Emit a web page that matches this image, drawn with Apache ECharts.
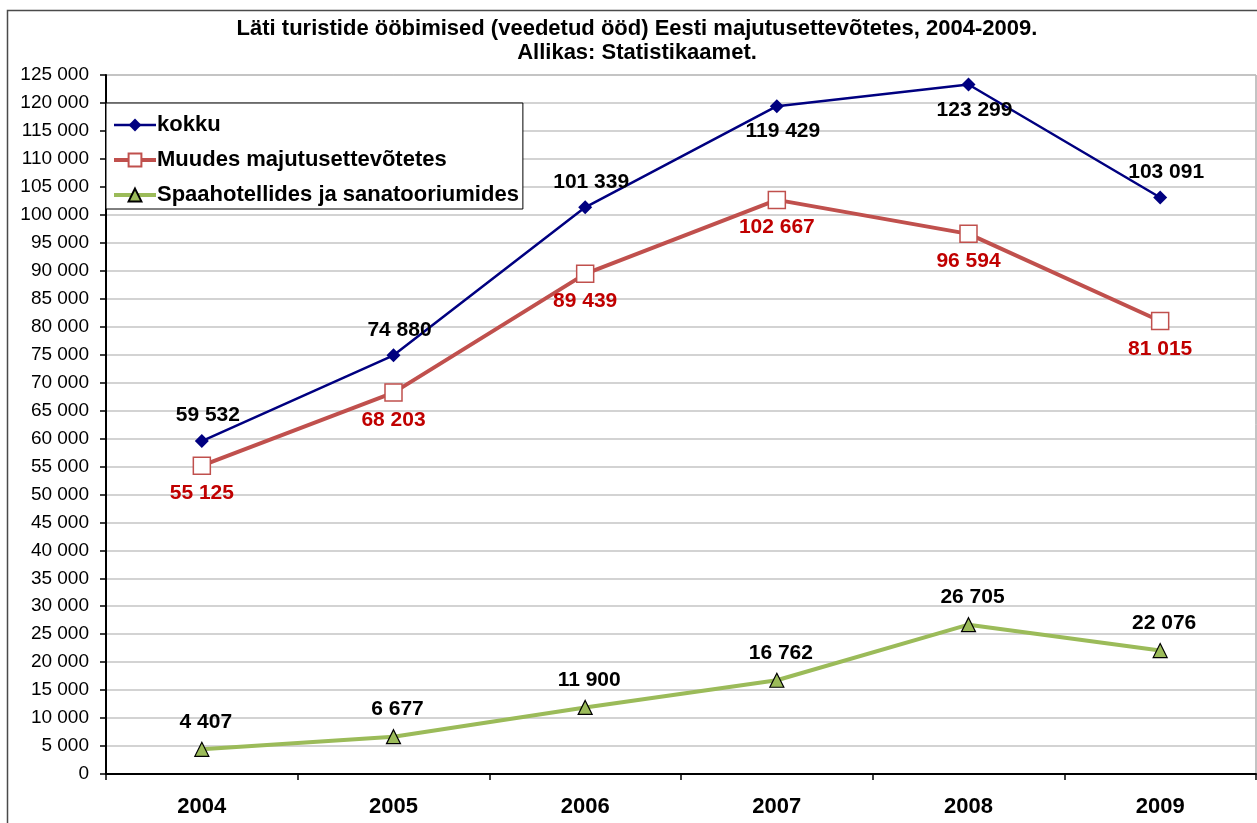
<!DOCTYPE html>
<html>
<head>
<meta charset="utf-8">
<script src="https://cdn.jsdelivr.net/npm/echarts@6/dist/echarts.min.js"></script>
<style>
  html, body { margin: 0; padding: 0; background: #fff; }
  #chart { width: 1257px; height: 823px; }
</style>
</head>
<body>
<div id="chart"></div>
<script>
// andmed
const years = ['2004', '2005', '2006', '2007', '2008', '2009'];
const kokku = [59532, 74880, 101339, 119429, 123299, 103091];
const muudes = [55125, 68203, 89439, 102667, 96594, 81015];
const spaa = [4407, 6677, 11900, 16762, 26705, 22076];

const FONT = 'Liberation Sans, Arial, sans-serif';
const fmt = v => String(v).replace(/\B(?=(\d{3})+(?!\d))/g, ' ');

let chart = echarts.init(document.getElementById('chart'));

let option = {
  animation: false,
  textStyle: { fontFamily: FONT },
  title: {
    text: 'Läti turistide ööbimised (veedetud ööd) Eesti majutusettevõtetes, 2004-2009.\nAllikas: Statistikaamet.',
    left: 632,
    top: 12,
    textAlign: 'center',
    textStyle: { fontFamily: FONT, fontSize: 22, fontWeight: 'bold', color: '#000', lineHeight: 24 }
  },
  graphic: [{
    type: 'rect',
    shape: { x: 7.5, y: 10.5, width: 1300, height: 900 },
    style: { fill: 'none', stroke: '#4a4a4a', lineWidth: 1.5 },
    silent: true
  }],
  legend: {
    orient: 'vertical',
    left: 106,
    top: 103,
    padding: [11, 4, 3, 6],
    itemGap: 13,
    itemWidth: 42,
    itemHeight: 16,
    backgroundColor: '#fff',
    borderColor: '#000',
    borderWidth: 1,
    textStyle: { fontFamily: FONT, fontSize: 22, fontWeight: 'bold', color: '#000', padding: [0, 0, 0, -4] },
    data: [
      { name: 'kokku', lineStyle: { width: 2.5 } },
      { name: 'Muudes majutusettevõtetes', lineStyle: { width: 4 } },
      { name: 'Spaahotellides ja sanatooriumides', lineStyle: { width: 4 } }
    ]
  },
  grid: {
    left: 106, right: 1, top: 75, bottom: 49,
    show: true, borderColor: '#888', borderWidth: 1
  },
  xAxis: {
    type: 'category',
    data: years,
    boundaryGap: true,
    axisLine: { lineStyle: { color: '#000', width: 2 } },
    axisTick: { show: true, length: 6, lineStyle: { color: '#000', width: 1.5 } },
    axisLabel: { margin: 22, fontFamily: FONT, fontSize: 22, fontWeight: 'bold', color: '#000' }
  },
  yAxis: {
    type: 'value',
    min: 0,
    max: 125000,
    interval: 5000,
    axisLine: { show: true, lineStyle: { color: '#000', width: 2 } },
    axisTick: { show: true, length: 6, lineStyle: { color: '#000', width: 1.5 } },
    axisLabel: { margin: 17, fontFamily: FONT, fontSize: 19, color: '#000', formatter: fmt },
    splitLine: { lineStyle: { color: '#c4c4c4', width: 1.5 } }
  },
  series: [
    {
      name: 'Spaahotellides ja sanatooriumides',
      type: 'line',
      data: spaa,
      z: 2,
      symbol: 'triangle',
      symbolSize: 14,
      lineStyle: { color: '#9bbb59', width: 4 },
      itemStyle: { color: '#9bbb59', borderColor: '#000', borderWidth: 1.2 },
      label: {
        show: true, position: 'top', distance: 9, offset: [4, 0],
        fontFamily: FONT, fontSize: 21, fontWeight: 'bold', color: '#000',
        formatter: p => fmt(p.value)
      }
    },
    {
      name: 'Muudes majutusettevõtetes',
      type: 'line',
      data: muudes,
      z: 3,
      symbol: 'rect',
      symbolSize: 17,
      lineStyle: { color: '#c0504d', width: 4 },
      itemStyle: { color: '#fff', borderColor: '#c0504d', borderWidth: 1.5 },
      label: {
        show: true, position: 'bottom', distance: 8,
        fontFamily: FONT, fontSize: 21, fontWeight: 'bold', color: '#c00000',
        formatter: p => fmt(p.value)
      }
    },
    {
      name: 'kokku',
      type: 'line',
      data: kokku.map((v, i) => ({
        value: v,
        label: { position: (i === 3 || i === 4) ? 'bottom' : 'top' }
      })),
      z: 4,
      symbol: 'diamond',
      symbolSize: 14,
      lineStyle: { color: '#000080', width: 2.5 },
      itemStyle: { color: '#000080' },
      label: {
        show: true, distance: 8, offset: [6, 0],
        fontFamily: FONT, fontSize: 21, fontWeight: 'bold', color: '#000',
        formatter: p => fmt(p.value)
      }
    }
  ]
};

chart.setOption(option);
</script>
</body>
</html>
